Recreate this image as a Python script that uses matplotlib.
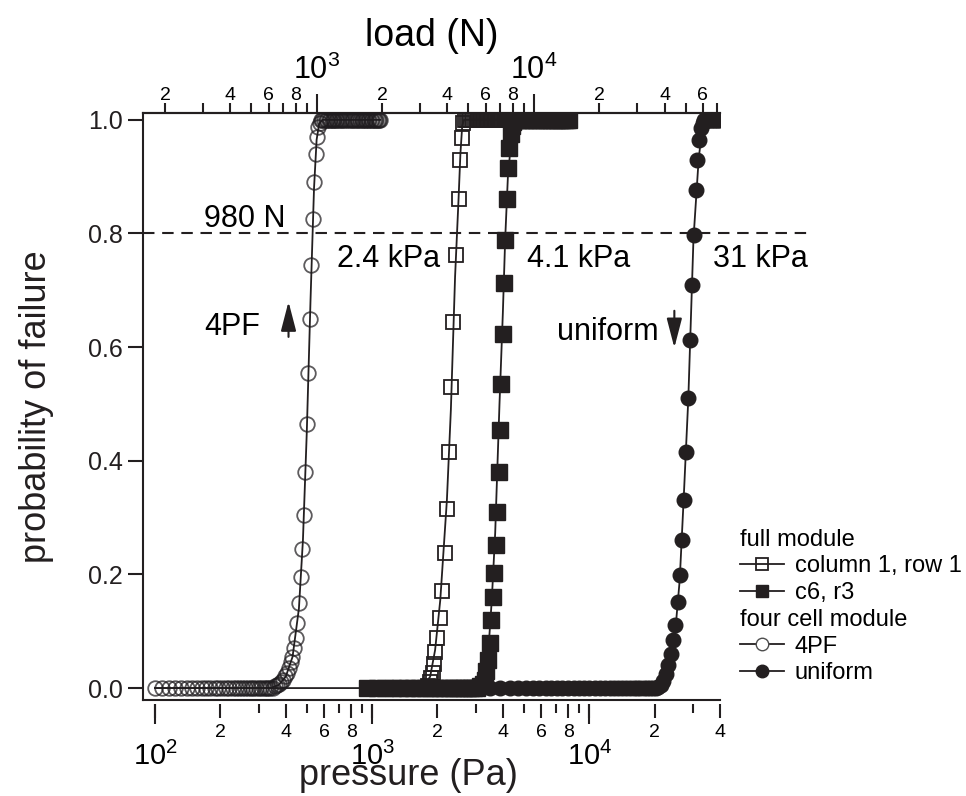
import matplotlib
matplotlib.use("Agg")
import matplotlib.pyplot as plt
from matplotlib.lines import Line2D

plt.rcParams['font.family'] = ['Liberation Sans', 'DejaVu Sans']

# ---- data: pressure (Pa) vs probability of failure ----

# four cell module, 4PF (open circles)
pf_x0 = [100, 108, 116, 124, 132, 140, 148, 156, 164, 172, 180, 188, 196, 204,
         212, 220, 228, 236, 244, 252, 260, 268, 276, 284, 292, 300, 308, 316,
         324, 332, 340, 348]
pf_xr = [357, 365, 373, 381, 389, 397, 405, 413, 421, 429, 437, 445, 453, 461,
         469, 477, 485, 493, 501, 509, 517, 525, 533, 541, 549, 557, 565, 573, 581]
pf_yr = [0.003, 0.005, 0.008, 0.011, 0.015, 0.021, 0.027, 0.035, 0.045, 0.055,
         0.070, 0.088, 0.115, 0.150, 0.195, 0.245, 0.305, 0.380, 0.465, 0.555,
         0.650, 0.745, 0.825, 0.890, 0.940, 0.970, 0.987, 0.995, 0.999]
pf_x1 = [590, 600, 610, 620, 630, 640, 650, 660, 670, 680, 690, 700, 715, 730,
         745, 760, 775, 790, 805, 820, 835, 850, 865, 880, 895, 910, 925, 940,
         955, 970, 985, 1000, 1015, 1030, 1045, 1060, 1075, 1090]
pf_fit_x = [100, 340, 370, 400, 430, 460, 480, 500, 520, 540, 555, 570, 590, 1090]
pf_fit_y = [0, 0, 0.005, 0.02, 0.055, 0.14, 0.26, 0.45, 0.68, 0.88, 0.965, 0.993, 1, 1]

# full module, column 1 row 1 (open squares)
c1_x0 = [950, 1050, 1150, 1250, 1350, 1450, 1550, 1650, 1750]
c1_xr = [1800, 1840, 1875, 1905, 1920, 1950, 2000, 2055, 2095, 2170, 2210, 2270,
         2310, 2355, 2435, 2500, 2545, 2590, 2635]
c1_yr = [0.004, 0.010, 0.018, 0.027, 0.043, 0.064, 0.088, 0.123, 0.170, 0.237,
         0.316, 0.416, 0.530, 0.645, 0.762, 0.860, 0.930, 0.968, 0.994]
c1_x1 = [2680, 2730, 2780, 2830, 2880, 2930, 2980, 3030, 3080, 3130, 3180, 3230,
         3280, 3330, 3380, 3430, 3480, 3530, 3580, 3630, 3680, 3730, 3780, 3830,
         3880, 3930, 3980, 4030, 4080, 4130, 4180, 4230, 4280, 4330, 4380, 4430]
c1_fit_x = [100, 1700, 1850, 1950, 2060, 2210, 2305, 2410, 2500, 2550, 2600, 2650, 4430]
c1_fit_y = [0, 0, 0.02, 0.067, 0.155, 0.331, 0.49, 0.724, 0.86, 0.94, 0.99, 1, 1]

# full module, c6 r3 (filled squares)
c6_x0 = [950, 1050, 1150, 1250, 1350, 1450, 1550, 1650, 1750, 1850, 1950, 2050,
         2150, 2250, 2350, 2450, 2550, 2650, 2750, 2850, 2950, 3050]
c6_xr = [3150, 3230, 3300, 3360, 3420, 3480, 3540, 3600, 3660, 3720, 3770, 3820,
         3870, 3930, 3990, 4040, 4100, 4160, 4220, 4280, 4340, 4400, 4460]
c6_yr = [0.003, 0.008, 0.015, 0.03, 0.05, 0.08, 0.12, 0.161, 0.202, 0.252, 0.31,
         0.381, 0.455, 0.536, 0.623, 0.712, 0.789, 0.86, 0.915, 0.95, 0.975, 0.99,
         0.997]
c6_x1 = [4520, 4700, 4900, 5100, 5300, 5500, 5700, 5900, 6100, 6300, 6500, 6700,
         6900, 7100, 7300, 7500, 7700, 7900, 8100]
c6_fit_x = [950, 3200, 3350, 3450, 3557, 3688, 3860, 4000, 4100, 4220, 4315, 4450, 4600, 8100]
c6_fit_y = [0, 0, 0.03, 0.08, 0.155, 0.273, 0.5, 0.66, 0.79, 0.9, 0.94, 0.99, 1, 1]

# four cell module, uniform (filled circles)
un_x0 = [3500, 3900, 4300, 4700, 5100, 5500, 5900, 6300, 6700, 7100, 7500, 8000,
         8500, 9000, 9500, 10000, 10600, 11200, 11800, 12400, 13000, 13600, 14200,
         14800, 15400, 16000, 16600, 17200, 17800, 18400, 19000, 19600, 20200]
un_xr = [20700, 21300, 21900, 22500, 23100, 23700, 24300, 24900, 25500, 26100,
         26700, 27300, 27900, 28500, 29100, 29700, 30300, 30900, 31500, 32100,
         32700, 33300]
un_yr = [0.002, 0.006, 0.013, 0.025, 0.04, 0.06, 0.085, 0.111, 0.152, 0.199,
         0.261, 0.331, 0.416, 0.51, 0.613, 0.71, 0.798, 0.877, 0.93, 0.965,
         0.985, 0.995]
un_x1 = [33900, 34500, 35100, 35700, 36300, 36900, 37500, 38100, 38700, 39300, 39900]
un_fit_x = [3500, 20000, 22000, 23500, 24900, 26100, 27200, 28600, 30200, 31900, 33000, 34500, 39900]
un_fit_y = [0, 0, 0.01, 0.04, 0.1, 0.19, 0.33, 0.51, 0.79, 0.93, 0.98, 1, 1]

threshold = 0.8
area = 1.8  # load (N) = pressure (Pa) * area

prob_ticks = [0.0, 0.2, 0.4, 0.6, 0.8, 1.0]
p_ticks = [100, 200, 400, 600, 800, 1000, 2000, 4000, 6000, 8000, 10000, 20000, 40000]
p_labels = ['', '2', '4', '6', '8', '', '2', '4', '6', '8', '', '2', '4']
p_minor = [300, 500, 700, 900, 3000, 5000, 7000, 9000, 30000]
p_decades = [100, 1000, 10000]
p_decade_labels = [r'$\mathregular{10^{2}}$', r'$\mathregular{10^{3}}$', r'$\mathregular{10^{4}}$']
load_minor = [200, 300, 400, 500, 600, 700, 800, 900, 2000, 3000, 4000, 5000,
              6000, 7000, 8000, 9000, 20000, 30000, 40000, 50000, 60000, 70000]
load_minor_labels = ['2', '', '4', '', '6', '', '8', '', '2', '', '4', '', '6', '',
                     '8', '', '2', '', '4', '', '6', '']
load_decades = [1000, 10000]
load_decade_labels = [r'$\mathregular{10^{3}}$', r'$\mathregular{10^{4}}$']

ink = '#231f20'

fig = plt.figure(figsize=(9.66, 7.96), dpi=100)
ax = fig.add_axes([0.148, 0.1206, 0.5973, 0.7374])
ax.set_xscale('log')
ax.set_xlim(88, 40000)
ax.set_ylim(-0.021, 1.012)

# fitted curves
for fx, fy in [(pf_fit_x, pf_fit_y), (c1_fit_x, c1_fit_y),
               (c6_fit_x, c6_fit_y), (un_fit_x, un_fit_y)]:
    ax.plot(fx, fy, color=ink, lw=1.3, zorder=2)

# measured points
ax.plot(pf_x0 + pf_xr + pf_x1, [0.0] * len(pf_x0) + pf_yr + [1.0] * len(pf_x1),
        ls='none', marker='o', ms=10.5, mfc='none', mec=(0.12, 0.11, 0.12, 0.72),
        mew=1.3, zorder=3)
ax.plot(c6_x0 + c6_xr + c6_x1, [0.0] * len(c6_x0) + c6_yr + [1.0] * len(c6_x1),
        ls='none', marker='s', ms=11.5, color=ink, zorder=3)
ax.plot(c1_x0 + c1_xr + c1_x1, [0.0] * len(c1_x0) + c1_yr + [1.0] * len(c1_x1),
        ls='none', marker='s', ms=10.5, mfc='none', mec=ink, mew=1.3, zorder=4)
ax.plot(un_x0 + un_xr + un_x1, [0.0] * len(un_x0) + un_yr + [1.0] * len(un_x1),
        ls='none', marker='o', ms=10.5, color=ink, zorder=3)

ax.axhline(threshold, xmin=0, xmax=1.16, color=ink, lw=1.5,
           ls=(0, (5.5, 3.7)), clip_on=False, zorder=1)

# annotations
ax.text(397, 0.812, '980 N', fontsize=22, ha='right', va='baseline')
ax.text(2056, 0.741, '2.4 kPa', fontsize=22, ha='right', va='baseline')
ax.text(5176, 0.741, '4.1 kPa', fontsize=22, ha='left', va='baseline')
ax.text(37260, 0.741, '31 kPa', fontsize=22, ha='left', va='baseline')
ax.text(305, 0.621, '4PF', fontsize=22, ha='right', va='baseline')
ax.text(20800, 0.613, 'uniform', fontsize=22, ha='right', va='baseline')
arrow = dict(arrowstyle='-|>,head_length=1.0,head_width=0.26', color=ink, lw=1.5,
             mutation_scale=18, shrinkA=0, shrinkB=0)
ax.annotate('', xy=(412, 0.68), xytext=(412, 0.618), arrowprops=arrow)
ax.annotate('', xy=(24660, 0.599), xytext=(24660, 0.664), arrowprops=arrow)

# frame
for side in ['left', 'top', 'bottom']:
    ax.spines[side].set_linewidth(1.5)
    ax.spines[side].set_color(ink)
ax.spines['right'].set_visible(False)
ax.tick_params(axis='x', which='both', bottom=False, top=False,
               labelbottom=False, labeltop=False)
ax.set_yticks(prob_ticks, labels=[f'{v:.1f}' for v in prob_ticks])
ax.tick_params(axis='y', length=10.8, width=1.5, labelsize=18, pad=4,
               color=ink, labelcolor=ink)
ax.set_ylabel('probability of failure', fontsize=26, color=ink)
ax.yaxis.set_label_coords(-0.155, 0.5)
ax.set_xlabel('pressure (Pa)', fontsize=26, color=ink)
ax.xaxis.set_label_coords(0.46, -0.098)

# top axis: load
top = ax.secondary_xaxis('top', functions=(lambda p: p * area, lambda n: n / area))
top.set_xticks(load_decades, labels=load_decade_labels)
top.set_xticks(load_minor, labels=load_minor_labels, minor=True)
top.tick_params(which='major', length=13.7, width=1.5, labelsize=22, pad=6, color=ink)
top.tick_params(which='minor', length=7.2, width=1.5, labelsize=14, pad=-1, color=ink)
top.spines['top'].set_linewidth(1.5)
top.set_xlabel('load (N)', fontsize=27, labelpad=6)

# bottom axis: pressure, offset a little below the frame
bot = ax.secondary_xaxis(-0.006)
bot.spines['bottom'].set_visible(False)
bot.set_xticks(p_ticks, labels=p_labels)
bot.set_xticks(p_minor, minor=True)
bot.tick_params(which='major', length=10, width=1.5, labelsize=14, pad=5, color=ink)
bot.tick_params(which='minor', length=6.5, width=1.5, color=ink)

dec = ax.secondary_xaxis(-0.006)
dec.spines['bottom'].set_visible(False)
dec.set_xticks(p_decades, labels=p_decade_labels)
dec.set_xticks([], minor=True)
dec.tick_params(which='major', length=14.4, width=1.5, labelsize=21, pad=13, color=ink)

# legends
h_c1 = Line2D([], [], color=ink, lw=1.3, marker='s', ms=9, mfc='none', mec=ink, mew=1.3)
h_c6 = Line2D([], [], color=ink, lw=1.3, marker='s', ms=9)
h_pf = Line2D([], [], color=ink, lw=1.3, marker='o', ms=9, mfc='white',
              mec=(0.3, 0.3, 0.3), mew=1.0)
h_un = Line2D([], [], color=ink, lw=1.3, marker='o', ms=9)
common = dict(loc='upper left', frameon=False, fontsize=17, title_fontsize=17,
              alignment='left', handlelength=1.85, handletextpad=0.48,
              labelspacing=0.2, borderpad=0, borderaxespad=0)
fig.legend([h_c1, h_c6], ['column 1, row 1', 'c6, r3'], title='full module',
           bbox_to_anchor=(0.766, 0.336), **common)
fig.legend([h_pf, h_un], ['4PF', 'uniform'], title='four cell module',
           bbox_to_anchor=(0.766, 0.235), **common)

fig.savefig('out.png', dpi=100)
